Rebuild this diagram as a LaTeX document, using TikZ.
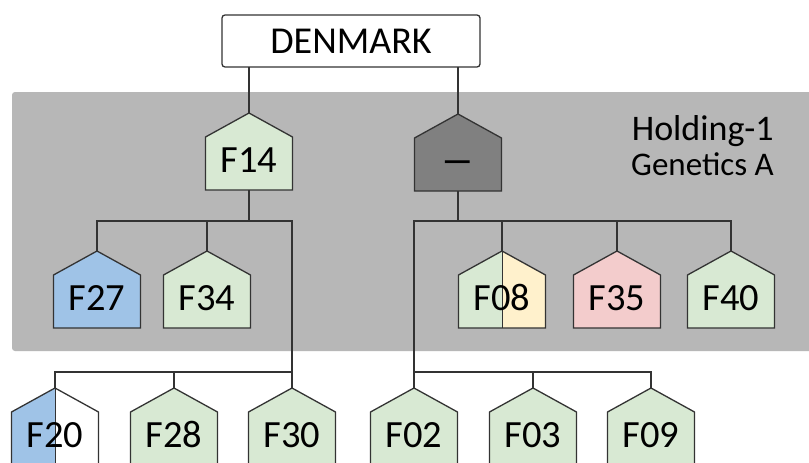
\documentclass[tikz,border=0pt]{standalone}
\usepackage{fontspec}
\usepackage{graphicx}
\setmainfont{Carlito}
\definecolor{bandgrey}{HTML}{B7B7B7}
\definecolor{farmgreen}{HTML}{D8E9D3}
\definecolor{farmblue}{HTML}{9FC3E7}
\definecolor{farmpink}{HTML}{F3CCCC}
\definecolor{farmyellow}{HTML}{FFF1CC}
\definecolor{farmdark}{HTML}{808080}
\definecolor{inkline}{HTML}{333333}
\tikzset{
  wire/.style={draw=inkline, line width=1.3pt},
  houseline/.style={draw=inkline, line width=1.3pt, line join=miter},
  farmlabel/.style={anchor=base, inner sep=0pt, font=\fontsize{38.5}{44}\selectfont, text=black},
  countrybox/.style={draw=inkline, line width=1.3pt, rounded corners=3pt, fill=white,
    minimum width=258pt, minimum height=52pt, inner sep=0pt, outer sep=0pt,
    font=\fontsize{38}{44}\selectfont},
}
% #1 name, #2 centre x, #3 apex y, #4 left fill, #5 right fill, #6 label
\newcommand\farmhouse[6]{%
  \coordinate (#1-top) at (#2,#3);
  \coordinate (#1-foot) at (#2,#3+77);
  \fill[#4] (#2,#3) -- ++(-43.5,24) -- ++(0,53) -- ++(43.5,0) -- cycle;
  \fill[#5] (#2,#3) -- ++(43.5,24) -- ++(0,53) -- ++(-43.5,0) -- cycle;
  \draw[houseline] (#2,#3) -- ++(43.5,24) -- ++(0,53) -- ++(-87,0) -- ++(0,-53) -- cycle;
  \node[farmlabel] (#1) at (#2,#3+59) {#6};
}
% same house with a dividing line between two halves
\newcommand\splithouse[6]{%
  \farmhouse{#1}{#2}{#3}{#4}{#5}{}%
  \draw[inkline, line width=1pt] (#1-top) -- (#1-foot);
  \node[farmlabel] (#1-text) at (#2,#3+59) {#6};
}
\begin{document}
\begin{tikzpicture}[x=1pt,y=-1pt]
\useasboundingbox (0,0) rectangle (809,463);
\fill[white] (0,0) rectangle (809,463);

% holding band
\fill[bandgrey, rounded corners=3pt] (12,92) rectangle (820,351);
\node[anchor=base east, inner sep=0pt, font=\fontsize{36}{40}\selectfont] (holding) at (774,140) {Holding-1};
\node[anchor=base east, inner sep=0pt, font=\fontsize{33}{38}\selectfont] (genetics) at (774,175) {Genetics A};

% country
\node[countrybox] (denmark) at (351,41) {DENMARK};

% farms
\farmhouse{f14}{249}{113}{farmgreen}{farmgreen}{F14}
\farmhouse{dash}{458}{114}{farmdark}{farmdark}{\raisebox{-1pt}{\scalebox{1.8}[1.15]{–}}}
\farmhouse{f27}{97}{251}{farmblue}{farmblue}{F27}
\farmhouse{f34}{207}{251}{farmgreen}{farmgreen}{F34}
\splithouse{f08}{502}{251}{farmgreen}{farmyellow}{F08}
\farmhouse{f35}{617}{251}{farmpink}{farmpink}{F35}
\farmhouse{f40}{731}{251}{farmgreen}{farmgreen}{F40}
\splithouse{f20}{55}{388}{farmblue}{white}{F20}
\farmhouse{f28}{174}{388}{farmgreen}{farmgreen}{F28}
\farmhouse{f30}{292}{388}{farmgreen}{farmgreen}{F30}
\farmhouse{f02}{414}{388}{farmgreen}{farmgreen}{F02}
\farmhouse{f03}{533}{388}{farmgreen}{farmgreen}{F03}
\farmhouse{f09}{651}{388}{farmgreen}{farmgreen}{F09}

\coordinate (lowbus) at (0,372);

% connectors from the country box
\draw[wire] (denmark.south -| f14-top) -- (f14-top);
\draw[wire] (denmark.south -| dash-top) -- (dash-top);

% left branch
\draw[wire] (f14-foot) -- ++(0,31) coordinate (jL);
\draw[wire] (f27-top) |- (f30-top |- jL) -- (f30-top);
\draw[wire] (f34-top) -- (f34-top |- jL);
\draw[wire] (f20-top) |- (lowbus -| f30-top);
\draw[wire] (f28-top) -- (f28-top |- lowbus);

% right branch
\draw[wire] (dash-foot) -- ++(0,30) coordinate (jR);
\draw[wire] (f02-top) |- (f40-top |- jR) -- (f40-top);
\draw[wire] (f08-top) -- (f08-top |- jR);
\draw[wire] (f35-top) -- (f35-top |- jR);
\draw[wire] (f09-top) |- (lowbus -| f02-top);
\draw[wire] (f03-top) -- (f03-top |- lowbus);
\end{tikzpicture}
\end{document}
